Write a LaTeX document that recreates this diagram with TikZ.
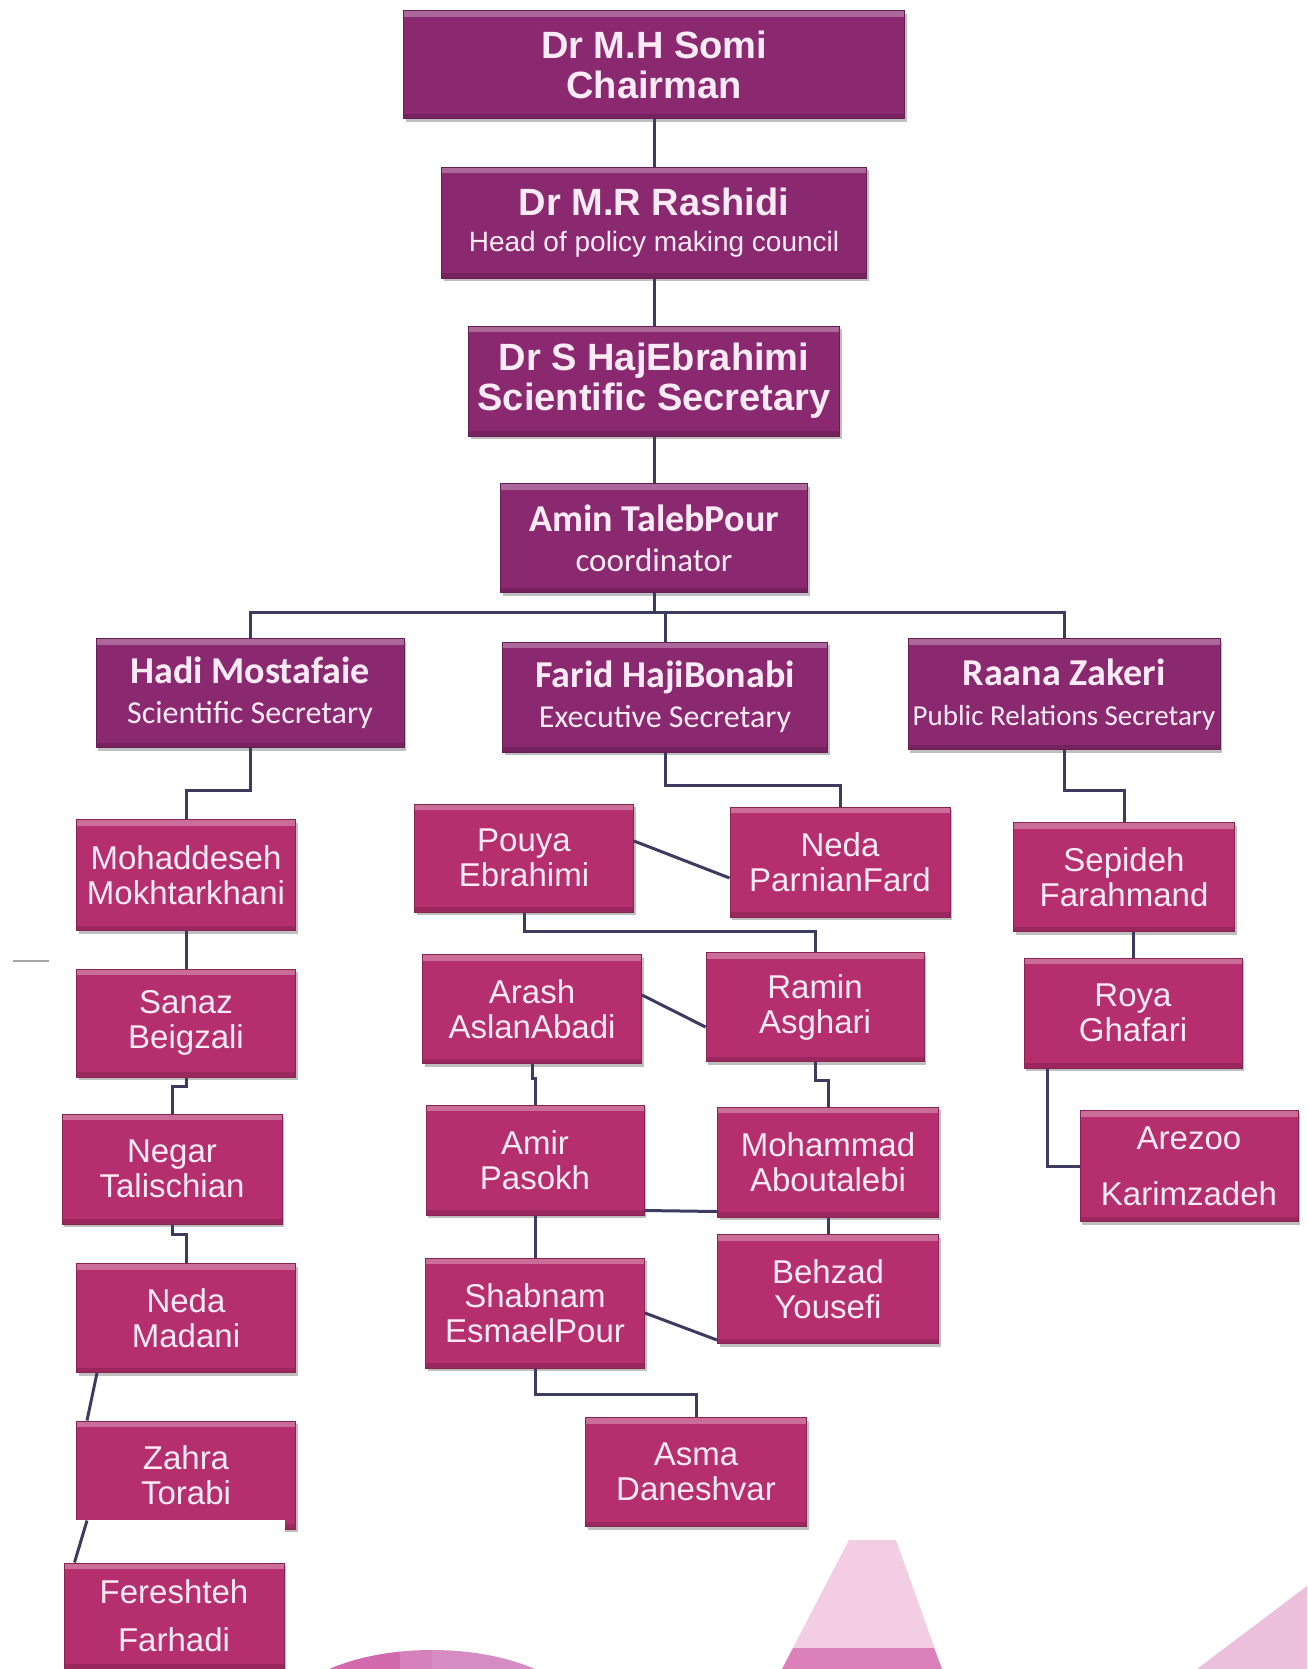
\documentclass[tikz,border=0pt]{standalone}
\usepackage{fontspec}
\setmainfont{Liberation Sans}
\newfontfamily\calibri{Carlito}
\usetikzlibrary{shadows}

\definecolor{boxpurple}{HTML}{8A2870}
\definecolor{boxpink}{HTML}{B52F6E}
\definecolor{boxtext}{HTML}{FCEAF4}
\definecolor{linkcol}{HTML}{3E3A60}
\definecolor{decolight}{HTML}{F2CDE4}
\definecolor{decomid}{HTML}{D58CC2}
\definecolor{decodark}{HTML}{D46AAE}

\begin{document}
\begin{tikzpicture}[x=1pt,y=-1pt,
  box/.style={fill=#1, draw=#1!75!black, line width=1pt, text=boxtext, align=center, inner sep=0pt,
    drop shadow={shadow xshift=2pt, shadow yshift=-3pt, fill=black, opacity=0.25},
    path picture={
      \fill[white,opacity=0.3] (path picture bounding box.north west) rectangle ([yshift=-6pt]path picture bounding box.north east);
      \fill[black,opacity=0.15] (path picture bounding box.south west) rectangle ([yshift=5pt]path picture bounding box.south east);}},
  chief/.style={box=boxpurple, font=\bfseries\fontsize{38}{40}\selectfont},
  deputy/.style={box=boxpurple, font=\calibri\fontsize{38}{40}\selectfont},
  member/.style={box=boxpink, font=\fontsize{33}{35}\selectfont},
  sz/.style 2 args={minimum width=#1pt, minimum height=#2pt},
  link/.style={draw=linkcol, line width=3pt}]
\useasboundingbox (0,0) rectangle (1307,1669);
\fill[white] (0,0) rectangle (1307,1669);

% shapes at the foot of the page
\begin{scope}
  \clip (432,1720) ellipse [x radius=150, y radius=70];
  \fill[decodark] (280,1640) rectangle (400,1669);
  \fill[decomid!70!decodark] (400,1640) rectangle (432,1669);
  \fill[decomid] (432,1640) rectangle (590,1669);
\end{scope}
\fill[decolight] (849,1540) -- (896,1540) -- (942,1669) -- (782,1669) -- cycle;
\fill[decodark!85] (793,1648) -- (934,1648) -- (942,1669) -- (782,1669) -- cycle;
\fill[decolight!80!decomid] (1197,1669) -- (1307,1586) -- (1307,1669) -- cycle;
\draw[gray!70, line width=1.5pt] (13,961) -- (49,961);

% top of the chart
\node[chief, sz={501}{108}] (somi) at (654,65) {Dr M.H Somi\\Chairman};
\node[chief, sz={425}{111}] (rashidi) at (654,223) {Dr M.R Rashidi\\[-4pt]{\mdseries\fontsize{28}{30}\selectfont Head of policy making council}};
\node[chief, sz={371}{110}] (hajeb) at (654,381) {Dr S HajEbrahimi\\Scientific Secretary};
\node[deputy, sz={307}{109}] (taleb) at (654,538) {\textbf{Amin TalebPour}\\{\fontsize{33}{35}\selectfont coordinator}};

\node[deputy, sz={308}{109}] (hadi) at (250,693) {\textbf{Hadi Mostafaie}\\{\fontsize{32}{34}\selectfont Scientific Secretary}};
\node[deputy, sz={325}{110}] (farid) at (665,697) {\textbf{Farid HajiBonabi}\\{\fontsize{32}{34}\selectfont Executive Secretary}};
\node[deputy, sz={312}{111}] (raana) at (1064,694) {\textbf{Raana Zakeri}\\{\fontsize{29}{31}\selectfont Public Relations Secretary}};

% left column
\node[member, sz={219}{111}] (mohaddeseh) at (186,875) {Mohaddeseh\\Mokhtarkhani};
\node[member, sz={219}{108}] (sanaz) at (186,1023) {Sanaz\\Beigzali};
\node[member, sz={220}{110}] (negar) at (172,1169) {Negar\\Talischian};
\node[member, sz={219}{109}] (nedam) at (186,1318) {Neda\\Madani};
\node[member, sz={219}{108}] (zahra) at (186,1475) {Zahra\\Torabi};
\fill[white] (64,1520) rectangle (285,1563);
\node[member, sz={220}{106}] (fereshteh) at (174,1616) {Fereshteh\\[13pt]Farhadi};

% middle column
\node[member, sz={219}{108}] (pouya) at (524,858) {Pouya\\Ebrahimi};
\node[member, sz={220}{110}] (nedap) at (840,862) {Neda\\ParnianFard};
\node[member, sz={219}{109}] (arash) at (532,1009) {Arash\\AslanAbadi};
\node[member, sz={218}{109}] (ramin) at (815,1007) {Ramin\\Asghari};
\node[member, sz={218}{110}] (amir) at (535,1160) {Amir\\Pasokh};
\node[member, sz={221}{110}] (mohammad) at (828,1162) {Mohammad\\Aboutalebi};
\node[member, sz={221}{109}] (behzad) at (828,1289) {Behzad\\Yousefi};
\node[member, sz={219}{110}] (shabnam) at (535,1313) {Shabnam\\EsmaelPour};
\node[member, sz={221}{109}] (asma) at (696,1472) {Asma\\Daneshvar};

% right column
\node[member, sz={221}{109}] (sepideh) at (1124,877) {Sepideh\\Farahmand};
\node[member, sz={218}{110}] (roya) at (1133,1013) {Roya\\Ghafari};
\node[member, sz={218}{111}] (arezoo) at (1189,1166) {Arezoo\\[21pt]Karimzadeh};

% links
\draw[link] (somi) -- (rashidi);
\draw[link] (rashidi) -- (hajeb);
\draw[link] (hajeb) -- (taleb);
\draw[link] (taleb.south) -- ++(0,19) coordinate (bus);
\draw[link] (hadi.north) |- (bus) -| (raana.north);
\draw[link] (farid.north) |- (bus);

\draw[link] (hadi.south) -- ++(0,42) -| (mohaddeseh.north);
\draw[link] (mohaddeseh) -- (sanaz);
\draw[link] (sanaz.south) -- ++(0,9) -| (negar.north);
\draw[link] (negar.south) -- ++(0,10) -| (nedam.north);
\draw[link] ([xshift=21pt]nedam.south west) -- ([xshift=11pt]zahra.north west);
\draw[link] ([shift={(11,-9)}]zahra.south west) -- ([xshift=11pt]fereshteh.north west);

\draw[link] (farid.south) -- ++(0,33) -| (nedap.north);
\draw[link] ([shift={(0,-17)}]pouya.east) -- ([shift={(0,16)}]nedap.west);
\draw[link] (pouya.south) -- ++(0,19) -| (ramin.north);
\draw[link] ([shift={(0,-14)}]arash.east) -- ([shift={(0,20)}]ramin.west);
\draw[link] (arash.south) -- ++(0,14) -| (amir.north);
\draw[link] (ramin.south) -- ++(0,18) -| (mohammad.north);
\draw[link] ([shift={(0,-5)}]amir.south east) -- ([shift={(0,-6)}]mohammad.south west);
\draw[link] (mohammad) -- (behzad);
\draw[link] (amir) -- (shabnam);
\draw[link] (shabnam.east) -- ([shift={(0,-4)}]behzad.south west);
\draw[link] (shabnam.south) -- ++(0,26) -| (asma.north);

\draw[link] (raana.south) -- ++(0,40) -| (sepideh.north);
\draw[link] (roya.north) -- (roya.north |- sepideh.south);
\draw[link] ([xshift=24pt]roya.south west) |- (arezoo.west);
\end{tikzpicture}
\end{document}
